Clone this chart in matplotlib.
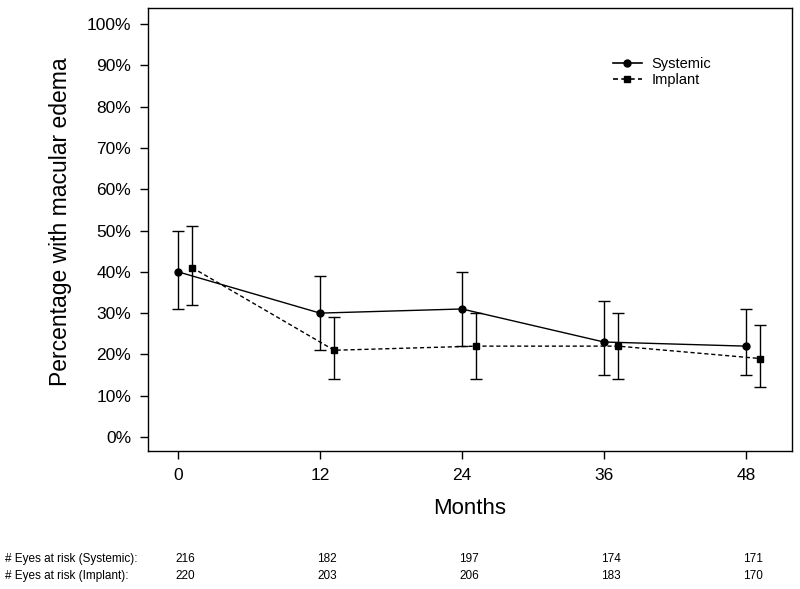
import matplotlib
matplotlib.use("Agg")
import matplotlib.pyplot as plt
import matplotlib.transforms as mtransforms
from matplotlib.lines import Line2D
import numpy as np

plt.rcParams['font.family'] = ['Liberation Sans', 'DejaVu Sans']

months = [0, 12, 24, 36, 48]
systemic = [40, 30, 31, 23, 22]
systemic_lo = [31, 21, 22, 15, 15]
systemic_hi = [50, 39, 40, 33, 31]
implant = [41, 21, 22, 22, 19]
implant_lo = [32, 14, 14, 14, 12]
implant_hi = [51, 29, 30, 30, 27]
risk_systemic = [216, 182, 197, 174, 171]
risk_implant = [220, 203, 206, 183, 170]
yticks = list(range(0, 101, 10))

fig = plt.figure(figsize=(8, 5.89), dpi=100)
ax = fig.add_axes([0.185, 0.2343, 0.805, 0.7521])

off = 1.2
xs = np.array(months, dtype=float)
xi = xs + off
s = np.array(systemic); i = np.array(implant)
dash = (0, (3, 2))
ax.errorbar(xs, s, yerr=[s - np.array(systemic_lo), np.array(systemic_hi) - s],
            fmt='-o', color='black', lw=1.0, ms=5, capsize=4, elinewidth=1.0,
            capthick=1.0)
ax.errorbar(xi, i, yerr=[i - np.array(implant_lo), np.array(implant_hi) - i],
            fmt='s', ls=dash, color='black', lw=1.0, ms=5, capsize=4,
            elinewidth=1.0, capthick=1.0)

ax.set_xlim(-2.54, 51.9)
ax.set_ylim(-3.4, 103.9)
ax.set_xticks(months)
ax.set_xticklabels([str(m) for m in months], fontsize=12.5)
ax.set_yticks(yticks)
ax.set_yticklabels([f"{t}%" for t in yticks], fontsize=12.5)
ax.tick_params(direction='out', length=6, width=1.0, pad=6)
for sp in ax.spines.values():
    sp.set_linewidth(1.0)
ax.set_xlabel('Months', fontsize=16, labelpad=11)
ax.set_ylabel('Percentage with macular edema', fontsize=16.5, labelpad=11)
ax.yaxis.label.set_y(0.517)

handles = [Line2D([], [], color='black', lw=1.2, marker='o', ms=5),
           Line2D([], [], color='black', lw=1.2, ls=dash, marker='s', ms=5)]
ax.legend(handles, ['Systemic', 'Implant'], loc='upper left',
          bbox_to_anchor=(0.701, 0.918), frameon=False,
          fontsize=10.5, handlelength=2.0, handletextpad=0.65,
          labelspacing=0.12)

trans = mtransforms.blended_transform_factory(ax.transData, fig.transFigure)
fig.text(5/800, 1 - 559/589, '# Eyes at risk (Systemic):', fontsize=8.5, va='center')
fig.text(5/800, 1 - 576/589, '# Eyes at risk (Implant):', fontsize=8.5, va='center')
for m, a, b in zip(months, risk_systemic, risk_implant):
    ax.text(m + 0.6, 1 - 559/589, str(a), transform=trans, fontsize=8.5,
            ha='center', va='center')
    ax.text(m + 0.6, 1 - 576/589, str(b), transform=trans, fontsize=8.5,
            ha='center', va='center')

fig.savefig('out.png', dpi=100)
